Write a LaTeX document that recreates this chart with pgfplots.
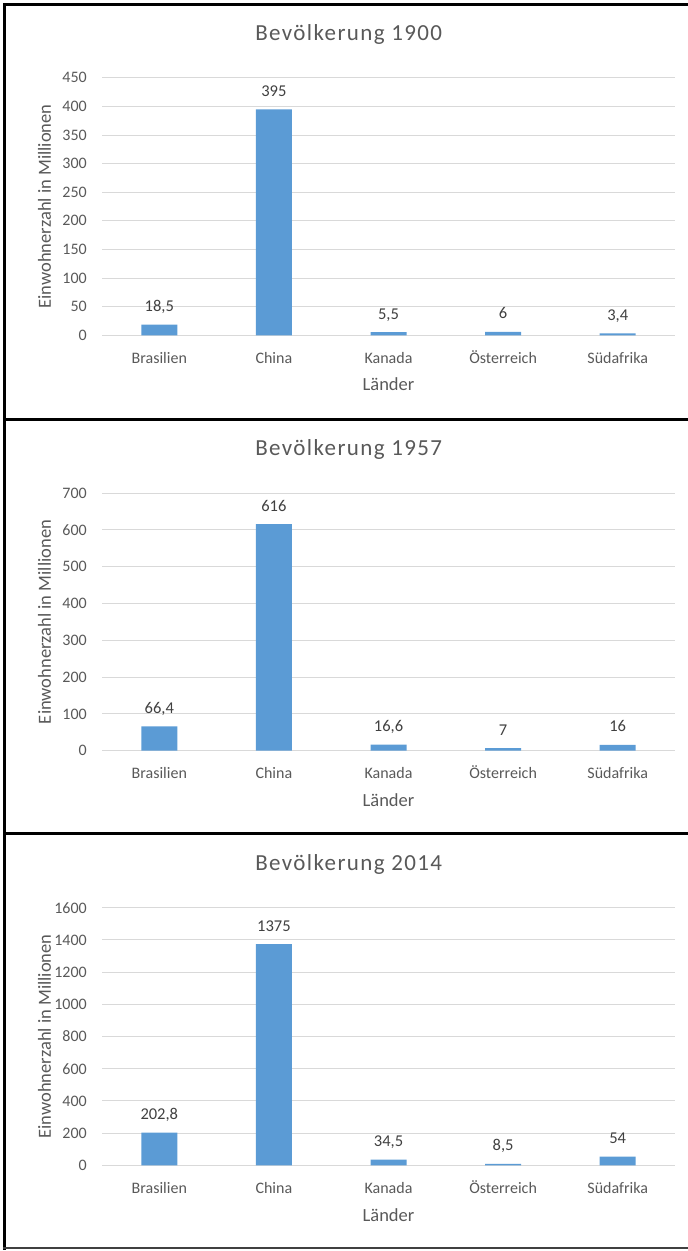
\documentclass[border=0pt]{standalone}
\usepackage{pgfplots}
\pgfplotsset{compat=1.18}
\usepackage{fontspec}
\setmainfont{Carlito}
\newfontfamily\titlefont[LetterSpace=6]{Carlito}
\definecolor{barc}{HTML}{5B9BD5}
\definecolor{gridc}{HTML}{D9D9D9}
\definecolor{txt}{HTML}{595959}
\definecolor{lbl}{HTML}{404040}

\pgfplotsset{
  panel/.style={
    scale only axis, width=573pt, height=257.5pt,
    anchor=south west,
    xmin=-0.5, xmax=4.5, ymin=0,
    xtick={0,1,2,3,4},
    xticklabels={Brasilien,China,Kanada,Österreich,Südafrika},
    ymajorgrids,
    major grid style={draw=gridc, line width=1pt},
    axis line style={draw=none},
    major tick length=0pt,
    tick label style={font=\fontsize{16}{19}\selectfont, text=txt},
    yticklabel style={anchor=east, inner sep=0pt, xshift=-15pt},
    xticklabel style={anchor=base, inner sep=0pt, yshift=-28pt},
    /pgf/number format/assume math mode=true,
    /pgf/number format/1000 sep={},
    xlabel={Länder},
    ylabel={Einwohnerzahl in Millionen},
    label style={font=\fontsize{18.5}{22}\selectfont, text=txt},
    xlabel style={at={(axis description cs:0.5,0)}, anchor=base, inner sep=0pt, yshift=-55.7pt},
    ylabel style={at={(axis description cs:-0.1003,0.5)}, anchor=center, inner sep=0pt},
    title style={at={(axis description cs:0.4305,1.123)}, anchor=base, inner sep=0pt,
      font=\titlefont\fontsize{23}{27}\selectfont, text=txt},
    ybar, bar width=36pt,
    nodes near coords,
    point meta=explicit symbolic,
    nodes near coords align={anchor=base},
    every node near coord/.append style={font=\fontsize{16.5}{20}\selectfont, text=lbl,
      anchor=base, inner sep=0pt, yshift=13pt},
  },
  barstyle/.style={fill=barc, draw=none},
}

\begin{document}
\begin{tikzpicture}
% Panel 1900
\begin{axis}[panel, at={(102pt,915.7pt)}, ymax=450, ytick={0,50,...,450},
  title={Bevölkerung 1900}]
\addplot[barstyle] coordinates {(0,18.5) [18,5] (1,395) [395] (2,5.5) [5,5] (3,6) [6] (4,3.4) [3,4]};
\end{axis}
% Panel 1957
\begin{axis}[panel, at={(102pt,500.3pt)}, ymax=700, ytick={0,100,...,700},
  title={Bevölkerung 1957}]
\addplot[barstyle] coordinates {(0,66.4) [66,4] (1,616) [616] (2,16.6) [16,6] (3,7) [7] (4,16) [16]};
\end{axis}
% Panel 2014
\begin{axis}[panel, at={(102pt,85.7pt)}, ymax=1600, ytick={0,200,...,1600},
  title={Bevölkerung 2014}]
\addplot[barstyle] coordinates {(0,202.8) [202,8] (1,1375) [1375] (2,34.5) [34,5] (3,8.5) [8,5] (4,54) [54]};
\end{axis}
% frames
\draw[line width=3pt, black] (4.5pt,1247.5pt) -- (4.5pt,1pt);
\draw[line width=3pt, black] (3pt,1246pt) -- (688pt,1246pt);
\draw[line width=3pt, black] (3pt,831.3pt) -- (688pt,831.3pt);
\draw[line width=3pt, black] (3pt,417pt) -- (688pt,417pt);
\draw[line width=2pt, black!75] (3pt,2.5pt) -- (688pt,2.5pt);
\pgfresetboundingbox
\useasboundingbox (0pt,0pt) rectangle (688pt,1251pt);
\end{tikzpicture}
\end{document}
